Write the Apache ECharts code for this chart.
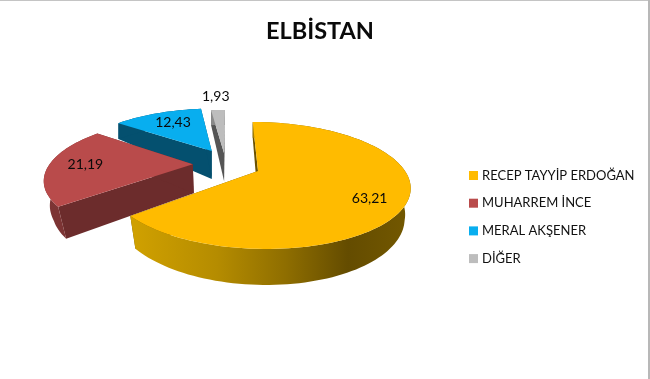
<!DOCTYPE html>
<html><head><meta charset="utf-8">
<style>html,body{margin:0;padding:0;background:#fff}#c{width:650px;height:379px}</style>
<script src="https://cdn.jsdelivr.net/npm/echarts@6/dist/echarts.min.js"></script>
</head><body><div id="c"></div>
<script>
const categories = ['RECEP TAYYİP ERDOĞAN', 'MUHARREM İNCE', 'MERAL AKŞENER', 'DİĞER'];
const values = [63.21, 21.19, 12.43, 1.93];
const labels = ['63,21', '21,19', '12,43', '1,93'];

const topColors = ['#FFBB00', '#B94B4B', '#08AEEF', '#BDBDBD'];
const sideColors = ['#6B5200', '#6C2C2C', '#04506F', '#555555'];
const rimColors = [null, '#7C3434', '#04506F', '#8A8A8A'];
// explosion of each slice and label anchor, in unit-circle plane coordinates
const explode = [[0, 0], [-0.45, 0.115], [-0.325, 0.36], [-0.234, 0.32]];
const labelAt = [[0.67, -0.41], [-0.75, 0], [-0.34, 0.63], [-0.09, 1.39]];

const cx = 258, cy = 171, A = 147, B = 60.2, K = 0.228, S = -6.5;
const depthKnots = [[110, 15], [124, 16], [151, 28], [164, 29], [207, 32], [249, 36], [400, 40]];
const total = values.reduce((a, b) => a + b, 0);
const startAngle = values.map((_, i) => values.slice(0, i).reduce((a, b) => a + b, 0) / total * 2 * Math.PI);

function project(u, v) {
  const d = 1 + K * v;
  return [cx + (A * u + S * v) / d, cy - B * v / d];
}
function depth(y) {
  for (let i = 1; i < depthKnots.length; i++) {
    if (y <= depthKnots[i][0]) {
      const a = depthKnots[i - 1], b = depthKnots[i];
      return a[1] + (b[1] - a[1]) * Math.max(0, y - a[0]) / (b[0] - a[0]);
    }
  }
  return 40;
}
function lower(p) {
  const t = Math.min(1, Math.max(0, (p[1] - 150) / 40));
  return [cx + (p[0] - cx) * (1 - 0.04 * t), p[1] + depth(p[1])];
}

function renderSlice(i) {
  return function (params, api) {
    const share = api.value(0) / total * 2 * Math.PI;
    const a0 = startAngle[i], a1 = a0 + share;
    const du = explode[i][0], dv = explode[i][1];
    const apex = project(du, dv);
    const rim = [];
    const n = Math.max(4, Math.ceil(share * 30));
    for (let k = 0; k <= n; k++) {
      const a = a0 + share * k / n;
      rim.push(project(du + Math.sin(a), dv + Math.cos(a)));
    }
    const rimLow = rim.map(lower).reverse();
    const outerFill = i === 0 ? {
      type: 'linear', x: 135, y: 0, x2: 408, y2: 0, global: true,
      colorStops: [
        { offset: 0, color: '#CFA000' }, { offset: 0.3, color: '#B58C00' },
        { offset: 0.55, color: '#8F6E00' }, { offset: 0.78, color: '#644C00' },
        { offset: 1, color: '#735800' }
      ]
    } : rimColors[i];
    const poly = (pts, fill) => ({ type: 'polygon', shape: { points: pts }, style: { fill: fill }, silent: true });
    const children = [
      poly([rim[0], apex, lower(apex), lower(rim[0])], sideColors[i]),
      poly([rim[n], apex, lower(apex), lower(rim[n])], sideColors[i]),
      poly(rim.concat(rimLow), outerFill),
      poly([apex].concat(rim), api.visual('color'))
    ];
    const lp = project(du + labelAt[i][0], dv + labelAt[i][1]);
    children.push({
      type: 'text', silent: true, x: lp[0], y: lp[1], z2: 50,
      style: { text: labels[i], fill: '#0A0A0A', font: '14px Lato', align: 'center', verticalAlign: 'middle' }
    });
    return { type: 'group', children: children };
  };
}

const chart = echarts.init(document.getElementById('c'), null, { renderer: 'canvas' });
chart.setOption({
  animation: false,
  backgroundColor: '#fff',
  title: {
    text: 'ELBİSTAN', left: 315, top: 14, textAlign: 'center',
    textStyle: { fontFamily: 'Lato', fontWeight: 'bold', fontSize: 23.5, color: '#0A0A0A' }
  },
  legend: {
    orient: 'vertical', left: 464, top: 164, itemWidth: 9, itemHeight: 9, itemGap: 14.7,
    icon: 'rect', data: categories, selectedMode: false,
    textStyle: { fontFamily: 'Lato', fontSize: 13, color: '#111', padding: [0, 0, 0, -1] }
  },
  graphic: [
    { type: 'rect', silent: true, shape: { x: 0, y: 0, width: 650, height: 1 }, style: { fill: '#C4C4C4' } },
    { type: 'rect', silent: true, shape: { x: 648, y: 0, width: 2, height: 379 }, style: { fill: '#B8B8B8' } }
  ],
  series: categories.map((name, i) => ({
    type: 'custom', name: name, coordinateSystem: 'none', z: 5 - i,
    itemStyle: { color: topColors[i] },
    data: [[values[i]]],
    renderItem: renderSlice(i)
  }))
});
</script></body></html>
